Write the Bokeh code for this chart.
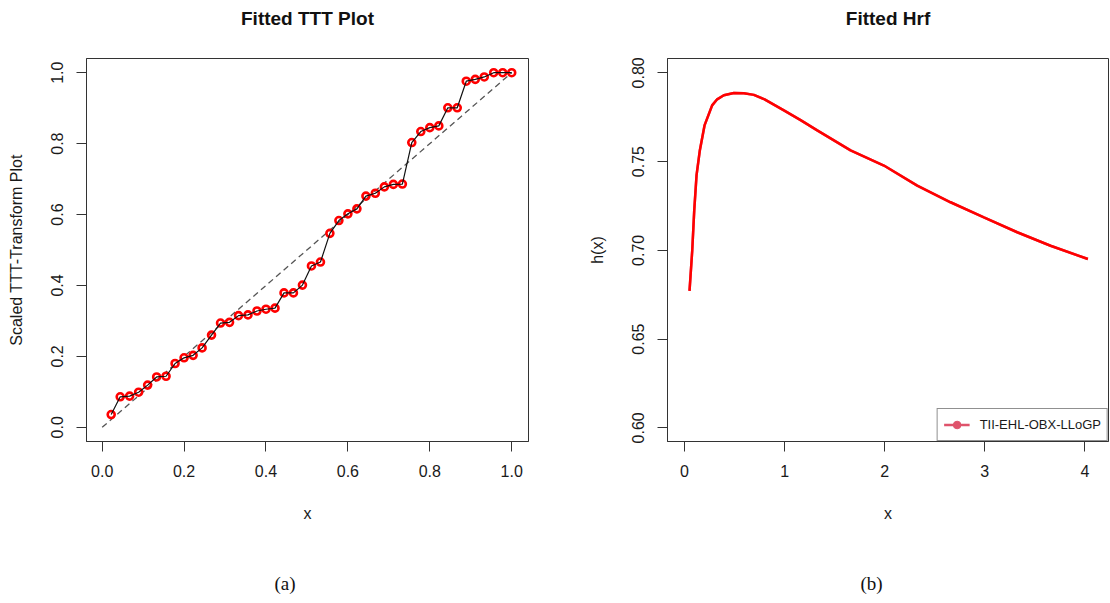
from bokeh.plotting import figure
from bokeh.layouts import row
from bokeh.models import (Range1d, FixedTicker, Legend, LegendItem, Title,
                          NumeralTickFormatter)
from bokeh.embed import file_html
from bokeh.resources import INLINE

# ---- data: (a) Fitted TTT plot ----
ttt_x = [0.022, 0.044, 0.067, 0.089, 0.111, 0.133, 0.156, 0.178, 0.200, 0.222,
         0.244, 0.267, 0.289, 0.311, 0.333, 0.356, 0.378, 0.400, 0.422, 0.444,
         0.467, 0.489, 0.511, 0.533, 0.556, 0.578, 0.600, 0.622, 0.644, 0.667,
         0.689, 0.711, 0.733, 0.756, 0.778, 0.800, 0.822, 0.844, 0.867, 0.889,
         0.911, 0.933, 0.956, 0.978, 1.000]
ttt_y = [0.036, 0.086, 0.088, 0.099, 0.119, 0.142, 0.144, 0.180, 0.196, 0.203,
         0.224, 0.260, 0.294, 0.296, 0.315, 0.317, 0.328, 0.333, 0.336, 0.379,
         0.379, 0.401, 0.455, 0.466, 0.547, 0.583, 0.602, 0.616, 0.652, 0.660,
         0.678, 0.685, 0.686, 0.803, 0.834, 0.845, 0.850, 0.901, 0.901, 0.976,
         0.981, 0.988, 1.000, 1.000, 1.000]
diag_x = [0.0, 1.0]
diag_y = [0.0, 1.0]
ttt_xticks = [0.0, 0.2, 0.4, 0.6, 0.8, 1.0]
ttt_yticks = [0.0, 0.2, 0.4, 0.6, 0.8, 1.0]

# ---- data: (b) Fitted hrf ----
hrf_x = [0.050, 0.077, 0.097, 0.120, 0.153, 0.200, 0.276, 0.326, 0.393, 0.493,
         0.593, 0.693, 0.800, 0.993, 1.160, 1.326, 1.659, 1.992, 2.325, 2.658,
         2.991, 3.324, 3.657, 4.030]
hrf_y = [0.6772, 0.6998, 0.7224, 0.7422, 0.7563, 0.7704, 0.7817, 0.7851,
         0.7874, 0.7887, 0.7885, 0.7876, 0.7851, 0.7789, 0.7734, 0.7676,
         0.7563, 0.7478, 0.7365, 0.7271, 0.7186, 0.7102, 0.7026, 0.6951]
hrf_xticks = [0, 1, 2, 3, 4]
hrf_yticks = [0.60, 0.65, 0.70, 0.75, 0.80]
legend_label = "TII-EHL-OBX-LLoGP"

FONT = "Liberation Sans"
AXC = "#333333"
TXT = "#1a1a1a"


def style(p):
    p.grid.grid_line_color = None
    p.outline_line_color = AXC
    p.outline_line_width = 1
    p.outline_line_alpha = 1
    for ax in (p.xaxis, p.yaxis):
        ax.axis_line_color = AXC
        ax.major_tick_line_color = AXC
        ax.major_tick_out = 10
        ax.major_tick_in = 0
        ax.minor_tick_line_color = None
        ax.major_label_text_font = FONT
        ax.major_label_text_font_size = "16px"
        ax.major_label_text_color = TXT
        ax.axis_label_text_font = FONT
        ax.axis_label_text_font_size = "16px"
        ax.axis_label_text_font_style = "normal"
        ax.axis_label_text_color = TXT
    p.yaxis.major_label_orientation = "vertical"
    p.xaxis.major_label_standoff = 13
    p.yaxis.major_label_standoff = 13
    p.xaxis.axis_label_standoff = 25
    p.yaxis.axis_label_standoff = 24


def titles(p, text, cap, offset):
    # spacer between frame and title, then the title itself
    p.add_layout(Title(text=" ", text_font_size="10px", standoff=17), "above")
    p.add_layout(Title(text=text, align="center", text_font=FONT,
                       text_font_size="19px", text_font_style="bold",
                       text_color="#111111", standoff=0), "above")
    # spacer below the axis, then the caption
    p.add_layout(Title(text=" ", text_font_size="10px", standoff=33), "below")
    p.add_layout(Title(text=cap, align="left", offset=offset,
                       text_font="Liberation Serif", text_font_size="19px",
                       text_font_style="normal", text_color="#111111",
                       standoff=0), "below")


H = 603
TOP = 58
FH = 383

# ---------- (a) ----------
p1 = figure(width=560, height=H, output_backend="svg", toolbar_location=None,
            x_range=Range1d(-0.0383, 1.041), y_range=Range1d(-0.04, 1.04),
            min_border_left=86, min_border_right=32, min_border_top=TOP,
            min_border_bottom=H - TOP - FH,
            x_axis_label="x", y_axis_label="Scaled TTT-Transform Plot")
style(p1)
p1.xaxis.ticker = FixedTicker(ticks=ttt_xticks)
p1.yaxis.ticker = FixedTicker(ticks=ttt_yticks)
p1.xaxis.formatter = NumeralTickFormatter(format="0.0")
p1.yaxis.formatter = NumeralTickFormatter(format="0.0")

p1.line(diag_x, diag_y, line_color="#555555", line_dash="6 4", line_width=1.3)
p1.scatter(ttt_x, ttt_y, marker="circle", size=7, fill_color=None,
           line_color="#ff0000", line_width=2.6)
p1.line(ttt_x, ttt_y, line_color="#111111", line_width=1.2)
titles(p1, "Fitted TTT Plot", "(a)", 188)

# ---------- (b) ----------
p2 = figure(width=550, height=H, output_backend="svg", toolbar_location=None,
            x_range=Range1d(-0.17, 4.236), y_range=Range1d(0.5923, 0.8081),
            min_border_left=107, min_border_right=2, min_border_top=TOP,
            min_border_bottom=H - TOP - FH,
            x_axis_label="x", y_axis_label="h(x)")
style(p2)
p2.xaxis.ticker = FixedTicker(ticks=hrf_xticks)
p2.yaxis.ticker = FixedTicker(ticks=hrf_yticks)
p2.xaxis.formatter = NumeralTickFormatter(format="0")
p2.yaxis.formatter = NumeralTickFormatter(format="0.00")

# legend-only renderers, hidden beneath the fitted curve
lr = p2.line(hrf_x, hrf_y, line_color="#DF536B", line_width=2.5)
sr = p2.scatter(hrf_x, hrf_y, marker="circle", size=0, fill_color="#DF536B",
                line_color="#DF536B")
p2.line(hrf_x, hrf_y, line_color="#ff0000", line_width=2.5)

leg = Legend(items=[LegendItem(label=legend_label, renderers=[lr, sr])],
             location="bottom_right")
leg.margin = 0
leg.padding = 6
leg.spacing = 0
leg.glyph_width = 26
leg.glyph_height = 19
leg.label_standoff = 10
leg.label_text_font = FONT
leg.label_text_font_size = "13px"
leg.label_text_color = TXT
leg.border_line_color = "#222222"
leg.border_line_width = 1
leg.background_fill_color = "white"
leg.background_fill_alpha = 1
p2.add_layout(leg, "center")
titles(p2, "Fitted Hrf", "(b)", 193)

layout = row(p1, p2, spacing=0)
open("out.html", "w").write(file_html(layout, INLINE))
